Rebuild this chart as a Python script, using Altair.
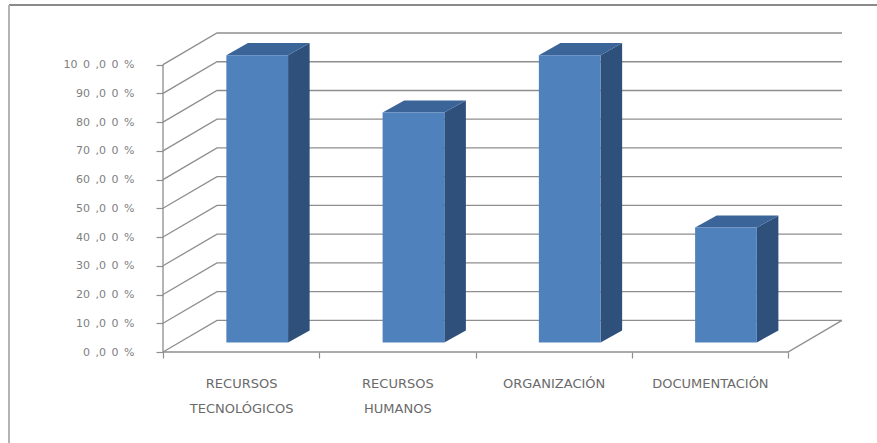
import json
import altair as alt
import pandas as pd

# ---- data -------------------------------------------------------------
categories = ["RECURSOS TECNOLÓGICOS", "RECURSOS HUMANOS", "ORGANIZACIÓN", "DOCUMENTACIÓN"]
values = [100, 80, 100, 40]
y_ticks = [0, 10, 20, 30, 40, 50, 60, 70, 80, 90, 100]
y_tick_labels = ["0\u2002,0\u20020\u2002%", "10\u2002,0\u20020\u2002%", "20\u2002,0\u20020\u2002%",
                 "30\u2002,0\u20020\u2002%", "40\u2002,0\u20020\u2002%", "50\u2002,0\u20020\u2002%",
                 "60\u2002,0\u20020\u2002%", "70\u2002,0\u20020\u2002%", "80\u2002,0\u20020\u2002%",
                 "90\u2002,0\u20020\u2002%", "10\u20020\u2002,0\u20020\u2002%"]

# ---- 3-D box geometry (x in category slots, y in percent) -------------
DX, DY = 0.3456, 11.0          # depth of the back wall
BAR_W = 0.395                  # width of a bar's front face
FX, FY = 0.103, 3.3            # front face of the bars, pushed into the box
BDX, BDY = 0.138, 4.2          # depth of each bar
N = len(categories)

GRID = "#8e8e8e"
FRONT, TOP, SIDE = "#4F81BD", "#3B6598", "#2F507B"

# gridlines: front axis tick -> back wall -> across the back wall
grid_rows = []
for k in y_ticks:
    grid_rows += [
        {"g": f"g{k}", "o": 0, "x": 0.0, "y": k},
        {"g": f"g{k}", "o": 1, "x": DX, "y": k + DY},
        {"g": f"g{k}", "o": 2, "x": N + DX, "y": k + DY},
    ]
# floor front edge and right edge, and the value axis line
grid_rows += [
    {"g": "floor", "o": 0, "x": 0.0, "y": 0},
    {"g": "floor", "o": 1, "x": float(N), "y": 0},
    {"g": "floor", "o": 2, "x": N + DX, "y": DY},
    {"g": "axis", "o": 0, "x": 0.0, "y": 0},
    {"g": "axis", "o": 1, "x": 0.0, "y": y_ticks[-1]},
]
grid_df = pd.DataFrame(grid_rows)

front_rows, side_rows, top_rows = [], [], []
for i, (c, v) in enumerate(zip(categories, values)):
    x0 = i + 0.5 - BAR_W / 2 + FX
    x1 = x0 + BAR_W
    top_f = v + FY
    top_b = top_f + BDY
    front_rows.append({"c": c, "x": x0, "x2": x1, "y": FY, "y2": top_f})
    side_rows += [
        {"c": c, "x": x1, "y": FY, "y2": top_f},
        {"c": c, "x": x1 + BDX, "y": FY + BDY, "y2": top_b},
    ]
    top_rows += [
        {"c": c, "x": x0, "y": top_f, "y2": top_f},
        {"c": c, "x": x0 + BDX, "y": top_f, "y2": top_b},
        {"c": c, "x": x1, "y": top_f, "y2": top_b},
        {"c": c, "x": x1 + BDX, "y": top_b, "y2": top_b},
    ]
front_df = pd.DataFrame(front_rows)
side_df = pd.DataFrame(side_rows)
top_df = pd.DataFrame(top_rows)

# ---- scales and axes --------------------------------------------------
x_scale = alt.Scale(domain=[0, N + DX], nice=False, zero=False)
y_scale = alt.Scale(domain=[0, y_ticks[-1] + DY], nice=False, zero=False)

cat_expr = json.dumps(categories, ensure_ascii=False)
x_axis = alt.Axis(
    values=[i / 2 for i in range(0, 2 * N + 1)],
    title=None, domain=False, grid=False,
    tickColor=GRID, tickSize=6, tickWidth=1.2,
    tickOpacity={"condition": {"test": "datum.value % 1 === 0", "value": 1}, "value": 0},
    labelExpr=f"datum.value % 1 === 0 ? '' : split({cat_expr}[floor(datum.value)], ' ')",
    labelFont="DejaVu Sans", labelFontSize=13, labelColor="#6a6a6a",
    labelPadding=19, labelLineHeight=25, labelBaseline="top",
    labelOverlap=False, labelFlush=False, labelBound=False,
)
lbl_expr = json.dumps(y_tick_labels, ensure_ascii=False)
y_axis = alt.Axis(
    values=y_ticks, title=None, domain=False, grid=False,
    tickColor=GRID, tickSize=7, tickWidth=1.2,
    labelExpr=f"{lbl_expr}[round(datum.value / 10)]",
    labelFont="DejaVu Sans", labelFontSize=11, labelColor="#808080",
    labelPadding=22,
)

X = lambda f="x": alt.X(f"{f}:Q", scale=x_scale, axis=x_axis)
Y = lambda f="y": alt.Y(f"{f}:Q", scale=y_scale, axis=y_axis)

grid = alt.Chart(grid_df).mark_line(color=GRID, strokeWidth=1.3).encode(
    x=X(), y=Y(), detail="g:N", order="o:Q"
)
sides = alt.Chart(side_df).mark_area(color=SIDE).encode(
    x=X(), y=Y(), y2="y2:Q", detail="c:N"
)
tops = alt.Chart(top_df).mark_area(color=TOP).encode(
    x=X(), y=Y(), y2="y2:Q", detail="c:N"
)
fronts = alt.Chart(front_df).mark_rect(color=FRONT).encode(
    x=X(), x2="x2:Q", y=Y(), y2="y2:Q"
)

# outer frame of the chart area
frame_top = alt.Chart(grid_df).mark_rule(color="#8a8a8a", strokeWidth=2).encode(
    x=alt.value(-154), x2=alt.value(714), y=alt.value(-28)
)
frame_left = alt.Chart(grid_df).mark_rule(color="#b4b4b4", strokeWidth=2).encode(
    x=alt.value(-154), y=alt.value(-28), y2=alt.value(410)
)

chart = (
    alt.layer(grid, sides, tops, fronts, frame_top, frame_left)
    .properties(
        width=679, height=319,
        autosize=alt.AutoSizeParams(type="none"),
        padding={"left": 163, "top": 33, "right": 35, "bottom": 91},
        background="white",
    )
    .configure_view(stroke=None)
)

chart.save("out.html", embed_options={"renderer": "svg", "actions": False})
